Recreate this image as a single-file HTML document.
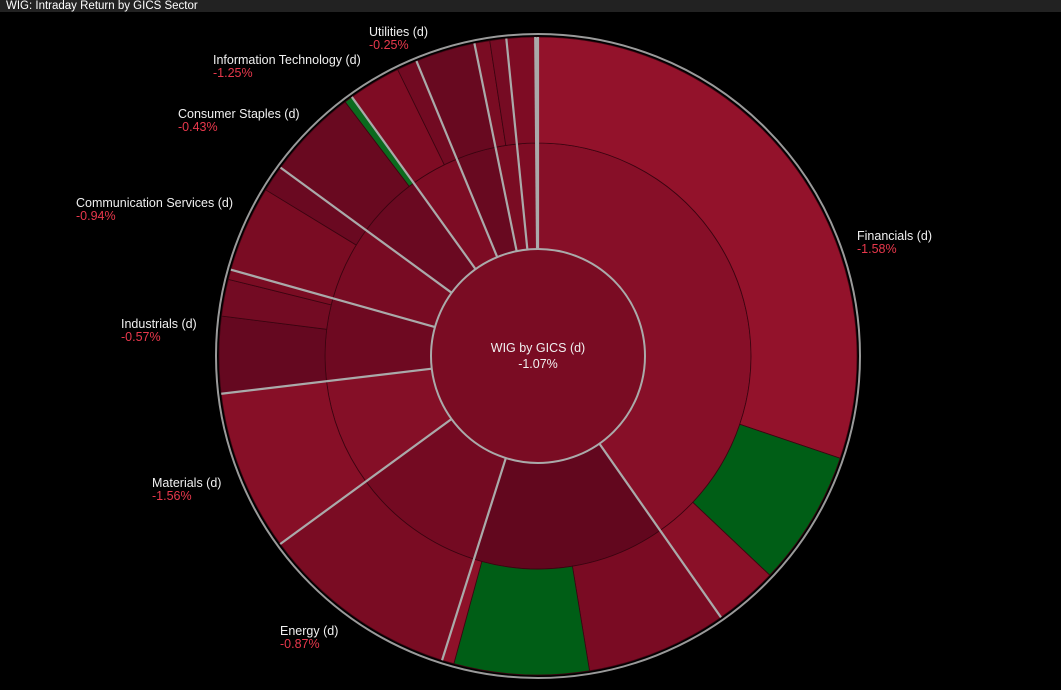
<!DOCTYPE html>
<html><head><meta charset="utf-8">
<style>
html,body{margin:0;padding:0;background:#000;width:1061px;height:690px;overflow:hidden;font-family:"Liberation Sans",sans-serif}
#title{position:absolute;left:0;top:0;width:1061px;height:12px;background:#222;color:#fff;font-size:11.5px;line-height:12px;padding-left:6px;box-sizing:border-box}
svg{position:absolute;left:0;top:0}
</style></head><body>
<div id="title">WIG: Intraday Return by GICS Sector</div>
<svg id="chart" width="1061" height="690"></svg>
<script>
// Sector data (angular weights in degrees, returns in %)
const sectorNames = ["Financials","Consumer Discretionary","Energy","Materials","Industrials","Communication Services","Consumer Staples","Information Technology","Utilities","Health Care","Real Estate","Other"];
const sectorWeights = [145,52.5,36.4,29.3,22.5,20.5,18.1,13.3,10.9,5.8,5.2,0.5];
const sectorReturns = [-1.58,null,-0.87,-1.56,-0.57,-0.94,-0.43,-1.25,-0.25,null,null,null];
const sectorLabeled = [true,false,true,true,true,true,true,true,true,false,false,false];
const sectorColors = ["#870f28","#62071e","#740a22","#850f27","#6e0921","#780b23","#6a0921","#7d0c24","#680920","#7a0c23","#7e0c24","#7e0c24"];
// Outer ring: child weights and colors
const childWeights = [[108.7,24.7,11.6],[25.7,24.6,2.2],[36.4],[29.3],[14,6.7,1.8],[15.7,4.8],[16.6,1.5],[9.6,3.7],[10.9],[2.8,3],[5.2],[0.5]];
const childColors = [["#93122b","#005e16","#8a1028"],["#7a0b23","#005e16","#8e1129"],["#7a0c23"],["#870f27"],["#650820","#730b23","#7a0c23"],["#7a0c23","#6a0921"],["#690920","#0b6a1e"],["#7f0c24","#720a22"],["#680920"],["#7a0c23","#760b23"],["#7e0c24"],["#aaaaaa"]];
const totalLabel = "WIG by GICS (d)";
const totalReturn = -1.07;
// label layout (text anchor points)
const labelPos = [[857,240],null,[280,635],[152,487],[121,328],[76,207],[178,118],[213,64],[369,36],null,null,null];

const NS="http://www.w3.org/2000/svg";
const svg=document.getElementById('chart');
const cx=538, cy=356, r0=107, r1=213, r2=319;
const total=sectorWeights.reduce((a,b)=>a+b,0);
function ang(v){return v/total*360;}
function pt(a,r){const t=(a-90)*Math.PI/180;return [cx+r*Math.cos(t),cy+r*Math.sin(t)];}
function arc(a0,a1,ri,ro){
  const p1=pt(a0,ro),p2=pt(a1,ro),p3=pt(a1,ri),p4=pt(a0,ri);const lg=(a1-a0)>180?1:0;
  return `M${p1[0]},${p1[1]}A${ro},${ro} 0 ${lg} 1 ${p2[0]},${p2[1]}L${p3[0]},${p3[1]}A${ri},${ri} 0 ${lg} 0 ${p4[0]},${p4[1]}Z`;
}
function mk(tag,attrs){const e=document.createElementNS(NS,tag);for(const k in attrs)e.setAttribute(k,attrs[k]);svg.appendChild(e);return e;}
const oc=mk('circle',{cx:cx,cy:cy,r:r2+3,fill:'none',stroke:'#9a9a9a','stroke-width':2});


let a=0;
const bounds=[];
sectorNames.forEach((n,i)=>{
  const a0=ang(a), a1=ang(a+sectorWeights[i]);
  const mid=mk('path',{d:arc(a0,a1,r0,r1),fill:sectorColors[i],stroke:'#3a0410','stroke-width':0.8});
  
  
  const cw=childWeights[i];const cs=cw.reduce((x,y)=>x+y,0);let c=0;
  cw.forEach((w,j)=>{
    const b0=a0+(a1-a0)*c/cs, b1=a0+(a1-a0)*(c+w)/cs;
    const p=mk('path',{d:arc(b0,b1,r1,r2),fill:childColors[i][j],stroke:'#3a0410','stroke-width':0.8});
    
    
    c+=w;
  });
  bounds.push(a0);
  a+=sectorWeights[i];
});
bounds.forEach(b=>{
  const p1=pt(b,r0),p2=pt(b,r2);
  const l=mk('line',{x1:p1[0],y1:p1[1],x2:p2[0],y2:p2[1],stroke:'#aaaaaa','stroke-width':2.2});
  
  
});
const ctr=mk('circle',{cx:cx,cy:cy,r:r0,fill:'#7a0c23',stroke:'#aaaaaa','stroke-width':2});


const t1=mk('text',{x:cx,y:352,'text-anchor':'middle',fill:'#f0f0f0','font-size':12.5,'font-family':'Liberation Sans, sans-serif'});
t1.textContent=totalLabel;


const t2=mk('text',{x:cx,y:368,'text-anchor':'middle',fill:'#f0f0f0','font-size':12.5,'font-family':'Liberation Sans, sans-serif'});
t2.textContent=totalReturn.toFixed(2)+'%';


sectorNames.forEach((n,i)=>{
  if(!sectorLabeled[i])return;
  const [x,y]=labelPos[i];
  const tn=mk('text',{x:x,y:y,fill:'#f0f0f0','font-size':12.5,'font-family':'Liberation Sans, sans-serif'});
  tn.textContent=n+' (d)';
  
  
  const tv=mk('text',{x:x,y:y+13,fill:'#e8384c','font-size':12.5,'font-family':'Liberation Sans, sans-serif'});
  tv.textContent=sectorReturns[i].toFixed(2)+'%';
  
  
});
</script>
</body></html>
